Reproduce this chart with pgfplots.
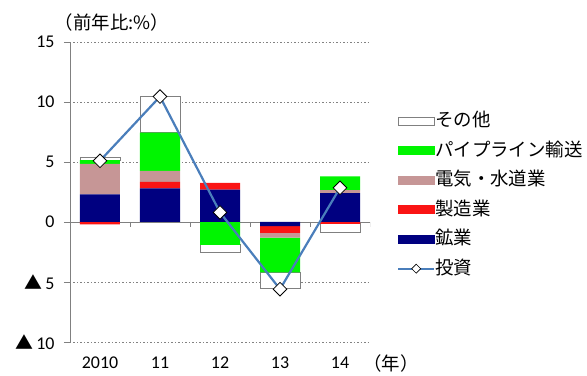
\documentclass[border=0pt]{standalone}
\usepackage{pgfplots}
\pgfplotsset{compat=1.18}
\usepackage{pgfplotstable}
\usepackage{fontspec}
\setmainfont{Carlito}
\newfontfamily\cjk{Noto Sans CJK JP}
\definecolor{mining}{RGB}{0,0,128}
\definecolor{manuf}{RGB}{250,20,20}
\definecolor{elec}{RGB}{198,150,150}
\definecolor{pipe}{RGB}{0,245,0}
\definecolor{othergray}{RGB}{128,128,128}
\definecolor{linecol}{RGB}{74,126,187}
\definecolor{gridgray}{RGB}{130,130,130}

\pgfplotstableread{
x mining manuf elec pipe other inv
0 2.3 -0.2 2.55 0.3 0.2 5.1
1 2.8 0.55 0.9 3.2 3.0 10.45
2 2.7 0.55 0 -1.9 -0.6 0.8
3 -0.35 -0.55 -0.4 -2.9 -1.3 -5.6
4 2.4 -0.15 0.25 1.15 -0.7 2.85
}\datatable

\begin{document}
\begin{tikzpicture}
\useasboundingbox (-70bp,-34bp) rectangle (517bp,342bp);
\pgfplotsset{common/.style={width=300bp,height=300bp,scale only axis,
  xmin=-0.5,xmax=4.5,ymin=-10,ymax=15, at={(0bp,0bp)}, anchor=south west}}
\begin{axis}[common, ybar stacked, stack negative=separate, bar width=40bp,
  axis x line*=bottom, axis y line*=left,
  x axis line style={draw=none}, y axis line style={draw=gray, line width=0.8bp},
  xtick={0,1,2,3,4}, xticklabels={2010,11,12,13,14}, x tick style={draw=none},
  ytick={-10,-5,5,10,15}, yticklabels={{\cjk ▲}\,10,{\cjk ▲}\,5,5,10,15},
  extra y ticks={0}, extra y tick labels={0},
  extra y tick style={grid style={solid, draw=gray, line width=0.8bp}},
  ymajorgrids, grid style={draw=gridgray, line width=0.9bp, dash pattern=on 1.5bp off 2bp},
  y tick style={draw=gray, line width=0.8bp}, tick align=outside, major tick length=6bp,
  tick label style={font=\fontsize{18}{18}\selectfont},
  xticklabel style={yshift=-8bp, inner sep=1pt},
  yticklabel style={xshift=-6bp},
]
\addplot[fill=mining, draw=none] table[x=x,y=mining]{\datatable};
\addplot[fill=manuf, draw=none] table[x=x,y=manuf]{\datatable};
\addplot[fill=elec, draw=none] table[x=x,y=elec]{\datatable};
\addplot[fill=pipe, draw=none] table[x=x,y=pipe]{\datatable};
\addplot[fill=white, draw=othergray, line width=0.8bp] table[x=x,y=other]{\datatable};
\pgfplotsinvokeforeach{-0.5,0.5,1.5,2.5,3.5,4.5}{
  \draw[gray, line width=0.8bp] (axis cs:#1,0) -- ([yshift=-5bp]axis cs:#1,0);}
\end{axis}
\begin{axis}[common, hide axis,
  legend cell align=left,
  legend style={at={(1.09,0.765)}, anchor=north west, draw=none, fill=none,
    inner sep=0pt, row sep=12.5bp,
    font=\cjk\fontsize{18.5}{18.5}\selectfont,
    nodes={inner sep=0pt, text height=14bp, text depth=3bp},
    /tikz/every even column/.append style={column sep=4bp}},
]
\addlegendimage{legend image code/.code={\draw[fill=white, draw=othergray, line width=0.8bp] (0bp,-4bp) rectangle (36bp,4bp);}}
\addlegendentry{その他}
\addlegendimage{legend image code/.code={\fill[pipe] (0bp,-4bp) rectangle (36bp,4bp);}}
\addlegendentry{パイプライン輸送}
\addlegendimage{legend image code/.code={\fill[elec] (0bp,-4bp) rectangle (36bp,4bp);}}
\addlegendentry{電気・水道業}
\addlegendimage{legend image code/.code={\fill[manuf] (0bp,-4bp) rectangle (36bp,4bp);}}
\addlegendentry{製造業}
\addlegendimage{legend image code/.code={\fill[mining] (0bp,-4bp) rectangle (36bp,4bp);}}
\addlegendentry{鉱業}
\addlegendimage{legend image code/.code={\draw[linecol, line width=2bp] (0bp,0bp) -- (36bp,0bp);
  \draw[black, fill=white, line width=0.7bp] (18bp,4.5bp) -- (22.5bp,0bp) -- (18bp,-4.5bp) -- (13.5bp,0bp) -- cycle;}}
\addlegendentry{投資}
\addplot[linecol, line width=2.2bp, mark=square*, mark size=4.8bp,
  mark options={fill=white, draw=black, line width=0.8bp, solid, rotate=45}, forget plot]
  table[x=x,y=inv]{\datatable};
\end{axis}
\node[font=\cjk\fontsize{18.5}{18.5}\selectfont, inner sep=0pt] at (42bp,320bp) {（前年比:\%）};
\node[font=\cjk\fontsize{18.5}{18.5}\selectfont, inner sep=0pt] at (321bp,-21bp) {（年）};
\end{tikzpicture}
\end{document}
